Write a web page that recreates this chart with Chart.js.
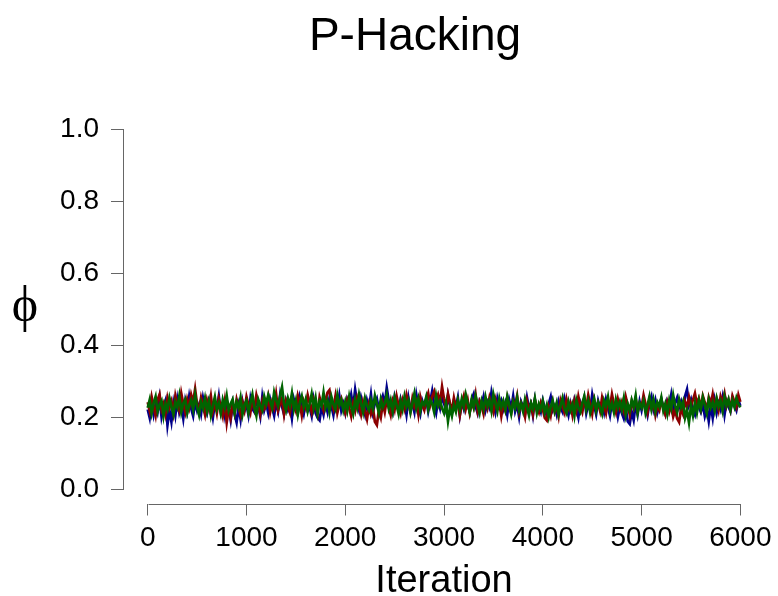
<!DOCTYPE html>
<html>
<head>
<meta charset="UTF-8">
<title>P-Hacking</title>
<script src="https://cdn.jsdelivr.net/npm/chart.js@4.4.1/dist/chart.umd.min.js"></script>
<style>
  html, body { margin: 0; padding: 0; background: #fff; }
  #wrap { position: relative; width: 778px; height: 596px; }
</style>
</head>
<body>
<div id="wrap"><canvas id="trace" width="778" height="596"></canvas></div>
<script>
// one value every 20 iterations
const iterStep = 20

const chainBlue = [
  0.221, 0.198, 0.243, 0.207, 0.236, 0.214, 0.252, 0.201, 0.229, 0.246,
  0.178, 0.219, 0.187, 0.238, 0.205, 0.249, 0.212, 0.231, 0.196, 0.244,
  0.216, 0.257, 0.224, 0.203, 0.241, 0.218, 0.235, 0.209, 0.253, 0.227,
  0.211, 0.246, 0.232, 0.199, 0.239, 0.222, 0.258, 0.213, 0.234, 0.204,
  0.247, 0.226, 0.192, 0.237, 0.208, 0.185, 0.229, 0.194, 0.243, 0.218,
  0.236, 0.206, 0.251, 0.223, 0.214, 0.245, 0.231, 0.202, 0.256, 0.219,
  0.238, 0.212, 0.249, 0.227, 0.204, 0.242, 0.217, 0.261, 0.229, 0.208,
  0.244, 0.221, 0.236, 0.197, 0.248, 0.225, 0.213, 0.255, 0.232, 0.209,
  0.241, 0.218, 0.226, 0.203, 0.247, 0.211, 0.198, 0.191, 0.228, 0.207,
  0.239, 0.215, 0.252, 0.231, 0.206, 0.244, 0.223, 0.259, 0.218, 0.237,
  0.212, 0.249, 0.234, 0.262, 0.227, 0.276, 0.241, 0.219, 0.254, 0.232,
  0.208, 0.246, 0.225, 0.263, 0.214, 0.238, 0.251, 0.221, 0.243, 0.259,
  0.236, 0.281, 0.247, 0.229, 0.213, 0.256, 0.234, 0.218, 0.249, 0.226,
  0.241, 0.207, 0.253, 0.222, 0.238, 0.214, 0.262, 0.231, 0.209, 0.245,
  0.228, 0.251, 0.216, 0.243, 0.272, 0.234, 0.211, 0.248, 0.225, 0.257,
  0.239, 0.218, 0.261, 0.233, 0.212, 0.246, 0.227, 0.254, 0.206, 0.242,
  0.223, 0.258, 0.236, 0.215, 0.249, 0.264, 0.229, 0.211, 0.244, 0.232,
  0.256, 0.219, 0.241, 0.226, 0.268, 0.237, 0.213, 0.252, 0.228, 0.245,
  0.221, 0.239, 0.207, 0.247, 0.224, 0.258, 0.216, 0.235, 0.201, 0.243,
  0.229, 0.212, 0.254, 0.226, 0.238, 0.205, 0.249, 0.221, 0.233, 0.215,
  0.246, 0.224, 0.203, 0.237, 0.256, 0.219, 0.231, 0.208, 0.244, 0.226,
  0.214, 0.251, 0.229, 0.206, 0.238, 0.217, 0.247, 0.223, 0.199, 0.241,
  0.226, 0.253, 0.211, 0.236, 0.219, 0.262, 0.232, 0.208, 0.245, 0.224,
  0.238, 0.213, 0.249, 0.227, 0.204, 0.242, 0.218, 0.234, 0.201, 0.229,
  0.211, 0.196, 0.224, 0.188, 0.181, 0.215, 0.192, 0.236, 0.207, 0.243,
  0.219, 0.248, 0.228, 0.205, 0.239, 0.257, 0.222, 0.246, 0.213, 0.235,
  0.251, 0.226, 0.209, 0.244, 0.231, 0.262, 0.218, 0.239, 0.254, 0.227,
  0.243, 0.216, 0.258, 0.277, 0.233, 0.249, 0.221, 0.207, 0.241, 0.228,
  0.214, 0.236, 0.203, 0.225, 0.189, 0.232, 0.198, 0.245, 0.212, 0.238,
  0.221, 0.253, 0.207, 0.244, 0.229, 0.216, 0.251, 0.234, 0.219, 0.247,
  0.231
]

const chainRed = [
  0.241, 0.217, 0.256, 0.229, 0.204, 0.248, 0.263, 0.221, 0.237, 0.209,
  0.252, 0.226, 0.244, 0.212, 0.259, 0.233, 0.218, 0.266, 0.238, 0.214,
  0.249, 0.227, 0.262, 0.241, 0.278, 0.236, 0.219, 0.254, 0.231, 0.207,
  0.246, 0.223, 0.258, 0.216, 0.239, 0.211, 0.251, 0.228, 0.203, 0.243,
  0.185, 0.224, 0.198, 0.237, 0.212, 0.249, 0.227, 0.206, 0.241, 0.219,
  0.256, 0.234, 0.213, 0.247, 0.225, 0.261, 0.238, 0.209, 0.244, 0.222,
  0.231, 0.257, 0.214, 0.242, 0.226, 0.264, 0.219, 0.236, 0.251, 0.208,
  0.245, 0.228, 0.212, 0.253, 0.234, 0.217, 0.259, 0.239, 0.205, 0.243,
  0.226, 0.261, 0.238, 0.214, 0.248, 0.231, 0.209, 0.255, 0.236, 0.219,
  0.247, 0.268, 0.275, 0.241, 0.223, 0.257, 0.212, 0.236, 0.251, 0.227,
  0.211, 0.245, 0.224, 0.202, 0.239, 0.218, 0.252, 0.229, 0.207, 0.241,
  0.216, 0.194, 0.233, 0.208, 0.226, 0.187, 0.178, 0.219, 0.199, 0.238,
  0.214, 0.249, 0.227, 0.206, 0.243, 0.221, 0.258, 0.232, 0.211, 0.246,
  0.224, 0.261, 0.237, 0.215, 0.252, 0.229, 0.243, 0.208, 0.256, 0.233,
  0.219, 0.248, 0.266, 0.234, 0.257, 0.271, 0.245, 0.262, 0.239, 0.284,
  0.251, 0.229, 0.264, 0.238, 0.216, 0.253, 0.227, 0.242, 0.205, 0.236,
  0.258, 0.223, 0.247, 0.212, 0.239, 0.226, 0.262, 0.218, 0.244, 0.231,
  0.209, 0.246, 0.225, 0.254, 0.233, 0.214, 0.249, 0.228, 0.241, 0.203,
  0.236, 0.219, 0.253, 0.227, 0.211, 0.244, 0.232, 0.259, 0.215, 0.238,
  0.224, 0.201, 0.243, 0.218, 0.235, 0.208, 0.247, 0.226, 0.213, 0.239,
  0.221, 0.198, 0.191, 0.227, 0.205, 0.241, 0.215, 0.232, 0.203, 0.246,
  0.228, 0.212, 0.249, 0.224, 0.237, 0.206, 0.243, 0.219, 0.257, 0.231,
  0.214, 0.246, 0.226, 0.261, 0.235, 0.209, 0.248, 0.223, 0.239, 0.217,
  0.254, 0.232, 0.211, 0.245, 0.228, 0.263, 0.236, 0.214, 0.249, 0.225,
  0.242, 0.218, 0.256, 0.233, 0.207, 0.244, 0.226, 0.252, 0.215, 0.238,
  0.229, 0.261, 0.237, 0.213, 0.248, 0.224, 0.241, 0.206, 0.232, 0.219,
  0.247, 0.226, 0.208, 0.239, 0.214, 0.233, 0.201, 0.219, 0.196, 0.186,
  0.224, 0.209, 0.243, 0.228, 0.255, 0.231, 0.248, 0.266, 0.237, 0.252,
  0.226, 0.259, 0.241, 0.218, 0.254, 0.235, 0.263, 0.227, 0.249, 0.221,
  0.257, 0.239, 0.265, 0.231, 0.248, 0.222, 0.259, 0.243, 0.228, 0.261,
  0.242
]

const chainGreen = [
  0.226, 0.248, 0.211, 0.239, 0.257, 0.216, 0.234, 0.245, 0.203, 0.237,
  0.221, 0.253, 0.229, 0.208, 0.242, 0.227, 0.259, 0.214, 0.238, 0.249,
  0.212, 0.234, 0.247, 0.221, 0.262, 0.228, 0.206, 0.241, 0.224, 0.252,
  0.217, 0.244, 0.205, 0.232, 0.256, 0.222, 0.239, 0.211, 0.248, 0.227,
  0.259, 0.219, 0.237, 0.249, 0.213, 0.242, 0.226, 0.254, 0.208, 0.235,
  0.246, 0.212, 0.239, 0.263, 0.227, 0.204, 0.248, 0.232, 0.219, 0.257,
  0.236, 0.261, 0.243, 0.226, 0.269, 0.247, 0.231, 0.258, 0.283, 0.238,
  0.219, 0.252, 0.233, 0.266, 0.222, 0.246, 0.208, 0.239, 0.258, 0.228,
  0.249, 0.216, 0.237, 0.264, 0.225, 0.253, 0.212, 0.243, 0.231, 0.268,
  0.227, 0.245, 0.214, 0.256, 0.236, 0.222, 0.261, 0.233, 0.247, 0.219,
  0.243, 0.218, 0.257, 0.229, 0.209, 0.248, 0.226, 0.263, 0.238, 0.214,
  0.252, 0.231, 0.219, 0.246, 0.224, 0.259, 0.236, 0.212, 0.249, 0.227,
  0.238, 0.262, 0.225, 0.247, 0.216, 0.254, 0.233, 0.209, 0.244, 0.221,
  0.257, 0.229, 0.246, 0.213, 0.238, 0.265, 0.227, 0.251, 0.218, 0.242,
  0.234, 0.256, 0.222, 0.248, 0.237, 0.214, 0.259, 0.231, 0.246, 0.224,
  0.211, 0.238, 0.189, 0.226, 0.203, 0.233, 0.215, 0.247, 0.222, 0.251,
  0.229, 0.262, 0.236, 0.214, 0.249, 0.227, 0.258, 0.235, 0.212, 0.244,
  0.223, 0.256, 0.231, 0.247, 0.218, 0.263, 0.239, 0.216, 0.252, 0.228,
  0.245, 0.221, 0.257, 0.234, 0.209, 0.242, 0.226, 0.254, 0.219, 0.237,
  0.216, 0.249, 0.227, 0.205, 0.238, 0.223, 0.251, 0.212, 0.236, 0.221,
  0.244, 0.213, 0.233, 0.201, 0.228, 0.246, 0.217, 0.239, 0.208, 0.231,
  0.253, 0.224, 0.211, 0.242, 0.219, 0.236, 0.204, 0.247, 0.226, 0.214,
  0.239, 0.258, 0.222, 0.245, 0.212, 0.234, 0.251, 0.218, 0.241, 0.227,
  0.209, 0.246, 0.231, 0.256, 0.219, 0.238, 0.214, 0.249, 0.226, 0.243,
  0.221, 0.252, 0.207, 0.236, 0.218, 0.247, 0.228, 0.259, 0.213, 0.239,
  0.226, 0.245, 0.211, 0.233, 0.257, 0.222, 0.248, 0.216, 0.241, 0.229,
  0.254, 0.218, 0.237, 0.209, 0.246, 0.224, 0.261, 0.232, 0.214, 0.249,
  0.227, 0.243, 0.198, 0.219, 0.185, 0.231, 0.204, 0.238, 0.212, 0.246,
  0.223, 0.255, 0.234, 0.211, 0.248, 0.226, 0.241, 0.217, 0.252, 0.229,
  0.244, 0.218, 0.257, 0.232, 0.249, 0.221, 0.246, 0.228, 0.253, 0.236,
  0.227
]

const xTicks = [0, 1000, 2000, 3000, 4000, 5000, 6000]
const yTicks = [0, 0.2, 0.4, 0.6, 0.8, 1.0]
const yTickLabels = ['0.0', '0.2', '0.4', '0.6', '0.8', '1.0']

const SANS = '"Liberation Sans", Arial, Helvetica, sans-serif'
const AXIS_GREY = '#666'

const toPoints = vals => vals.map((v, i) => ({ x: i * iterStep, y: v }))

// R-style axes: lines only run between first and last tick, plus title / labels
const rStyle = {
  id: 'rStyle',
  afterDraw(chart) {
    const { ctx, chartArea, scales } = chart
    const x = scales.x, y = scales.y
    ctx.save()
    ctx.strokeStyle = AXIS_GREY
    ctx.lineWidth = 1
    ctx.beginPath()
    const by = Math.round(chartArea.bottom) + 0.5
    ctx.moveTo(Math.round(x.getPixelForValue(xTicks[0])) + 0.5, by)
    ctx.lineTo(Math.round(x.getPixelForValue(xTicks[xTicks.length - 1])) + 0.5, by)
    const lx = Math.round(chartArea.left) - 0.5
    ctx.moveTo(lx, Math.round(y.getPixelForValue(yTicks[0])) + 0.5)
    ctx.lineTo(lx, Math.round(y.getPixelForValue(yTicks[yTicks.length - 1])) + 0.5)
    ctx.stroke()

    ctx.fillStyle = '#000'
    ctx.textAlign = 'center'
    ctx.textBaseline = 'alphabetic'
    ctx.font = '46px ' + SANS
    ctx.fillText('P-Hacking', 415, 50)
    ctx.font = '38px ' + SANS
    ctx.fillText('Iteration', 444, 592)
    ctx.textBaseline = 'middle'
    ctx.font = '50px "Liberation Serif", "DejaVu Serif", serif'
    ctx.fillText('ϕ', 25, 308)
    ctx.restore()
  }
}

new Chart(document.getElementById('trace'), {
  type: 'line',
  data: {
    datasets: [
      { label: 'chain 1', data: toPoints(chainBlue), borderColor: '#00008b', order: 3 },
      { label: 'chain 2', data: toPoints(chainRed), borderColor: '#8b0000', order: 2 },
      { label: 'chain 3', data: toPoints(chainGreen), borderColor: '#006400', order: 1 }
    ]
  },
  options: {
    responsive: false,
    animation: false,
    devicePixelRatio: 1,
    layout: { padding: { top: 114.6, right: 13.6, left: 0, bottom: 0 } },
    elements: {
      line: { borderWidth: 2.7, tension: 0 },
      point: { radius: 0, hoverRadius: 0 }
    },
    plugins: {
      legend: { display: false },
      title: { display: false },
      tooltip: { enabled: false }
    },
    scales: {
      x: {
        type: 'linear',
        min: -240,
        max: 6240,
        afterBuildTicks: s => { s.ticks = xTicks.map(v => ({ value: v })) },
        afterFit: s => { s.height = 92.5 },
        border: { display: false },
        grid: { drawOnChartArea: false, drawTicks: true, tickLength: 12, color: AXIS_GREY },
        ticks: {
          color: '#000',
          font: { family: SANS, size: 28 },
          padding: 6,
          maxRotation: 0,
          autoSkip: false,
          callback: v => String(v)
        }
      },
      y: {
        type: 'linear',
        min: -0.04,
        max: 1.04,
        afterBuildTicks: s => { s.ticks = yTicks.map(v => ({ value: v })) },
        afterFit: s => { s.width = 124 },
        border: { display: false },
        grid: { drawOnChartArea: false, drawTicks: true, tickLength: 13, color: AXIS_GREY },
        ticks: {
          color: '#000',
          font: { family: SANS, size: 28 },
          padding: 12,
          autoSkip: false,
          callback: v => yTickLabels[yTicks.findIndex(t => Math.abs(t - v) < 1e-9)]
        }
      }
    }
  },
  plugins: [rStyle]
})
</script>
</body>
</html>
